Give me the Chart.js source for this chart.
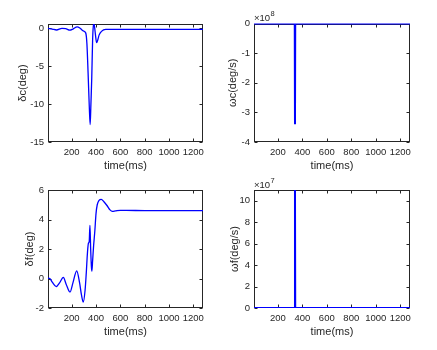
<!DOCTYPE html>
<html>
<head>
<meta charset="utf-8">
<script src="https://cdn.jsdelivr.net/npm/chart.js@4/dist/chart.umd.min.js"></script>
<style>
  body { margin: 0; background: #fff; }
  .panel { position: absolute; }
</style>
</head>
<body>
<div class="panel" style="left:0px;top:0px"><canvas id="dc" width="218" height="175"></canvas></div>
<div class="panel" style="left:218px;top:0px"><canvas id="wc" width="219" height="175"></canvas></div>
<div class="panel" style="left:0px;top:175px"><canvas id="df" width="218" height="175"></canvas></div>
<div class="panel" style="left:218px;top:175px"><canvas id="wf" width="219" height="175"></canvas></div>
<script>
// δc (deg) vs time (ms)
const timeDc = [5, 40, 75, 120, 150, 185, 210, 245, 270, 295, 315, 325, 335, 345, 352, 358, 365, 372, 378, 383, 388, 395, 405, 415, 425, 445, 480, 550, 700, 900, 1100, 1280]
const deltaC = [0, -0.1, -0.22, 0, -0.05, -0.25, -0.1, 0.2, 0, -0.35, -0.6, -2.0, -6.0, -10.5, -12.7, -10.0, -6.5, -1.5, 0.3, 0.57, 0.2, -0.8, -1.9, -1.5, -0.9, -0.4, -0.15, -0.15, -0.15, -0.15, -0.15, -0.15]

// δf (deg) vs time (ms)
const timeDf = [5, 20, 40, 73, 100, 131, 155, 186, 210, 241, 265, 280, 295, 310, 320, 330, 338, 344, 350, 356, 362, 366, 372, 380, 390, 400, 410, 425, 443, 465, 490, 515, 535, 560, 600, 650, 800, 1000, 1280]
const deltaF = [0.02, 0, -0.25, -0.55, -0.3, 0.07, -0.4, -0.92, -0.3, 0.52, -0.3, -1.1, -1.6, -0.8, 0.4, 1.8, 2.4, 2.5, 3.6, 2.0, 0.8, 0.5, 1.2, 2.2, 3.2, 4.4, 5.0, 5.3, 5.37, 5.2, 4.95, 4.65, 4.55, 4.58, 4.62, 4.62, 4.6, 4.6, 4.6]

// ωc, ωf (deg/s) vs time (ms)
const timeW = [5, 338, 340, 342, 1280]
const omegaC = [0, 0, -3.4e8, 0, 0]
const omegaF = [0, 0, 1.1e8, 0, 0]

const timeTicks = [200, 400, 600, 800, 1000, 1200]
const dcTicks = [-15, -10, -5, 0]
const wcTicks = [-4e8, -3e8, -2e8, -1e8, 0]
const dfTicks = [-2, 0, 2, 4, 6]
const wfTicks = [0, 2e7, 4e7, 6e7, 8e7, 10e7]

const axisColor = '#262626'
const fontFamily = '"Liberation Sans", Arial, Helvetica, sans-serif'

const matlabAxes = {
    id: 'matlabAxes',
    beforeDatasetsDraw(chart) {
        const { ctx, chartArea: a } = chart
        const l = Math.round(a.left) + 0.5
        const r = Math.round(a.right) - 0.5
        const t = Math.round(a.top) + 0.5
        const b = Math.round(a.bottom) - 0.5
        ctx.save()
        ctx.strokeStyle = axisColor
        ctx.lineWidth = 1
        ctx.strokeRect(l, t, r - l, b - t)
        ctx.beginPath()
        chart.scales.x.ticks.forEach(tk => {
            const px = Math.round(chart.scales.x.getPixelForValue(tk.value)) + 0.5
            ctx.moveTo(px, b); ctx.lineTo(px, b - 3)
            ctx.moveTo(px, t); ctx.lineTo(px, t + 3)
        })
        chart.scales.y.ticks.forEach(tk => {
            const py = Math.round(chart.scales.y.getPixelForValue(tk.value)) + 0.5
            ctx.moveTo(l, py); ctx.lineTo(l + 3, py)
            ctx.moveTo(r, py); ctx.lineTo(r - 3, py)
        })
        ctx.stroke()
        ctx.restore()
    },
    afterDraw(chart, args, opts) {
        if (!opts.exponent) return
        const { ctx, chartArea: a } = chart
        ctx.save()
        ctx.fillStyle = axisColor
        ctx.textBaseline = 'alphabetic'
        ctx.font = `9.5px ${fontFamily}`
        ctx.fillText('×10', a.left, a.top - 2.5)
        const w = ctx.measureText('×10').width
        ctx.font = `7.5px ${fontFamily}`
        ctx.fillText(opts.exponent, a.left + w + 0.5, a.top - 7.5)
        ctx.restore()
    }
}

const makeChart = (id, times, values, cfg) => {
    const ctx = document.getElementById(id).getContext('2d')
    return new Chart(ctx, {
        type: 'line',
        data: {
            labels: times,
            datasets: [{
                data: times.map((t, i) => ({ x: t, y: values[i] })),
                borderColor: '#0000ff',
                borderWidth: cfg.lineWidth,
                pointRadius: 0,
                cubicInterpolationMode: cfg.smooth ? 'monotone' : 'default',
                tension: 0
            }]
        },
        options: {
            responsive: false,
            animation: false,
            layout: { padding: { top: cfg.padTop, right: cfg.padRight, left: 0, bottom: 0 } },
            plugins: {
                legend: { display: false },
                tooltip: { enabled: false },
                matlabAxes: { exponent: cfg.exponent }
            },
            scales: {
                x: {
                    type: 'linear',
                    min: 5,
                    max: 1280,
                    grid: { display: false, drawTicks: false, tickLength: 0 },
                    border: { display: false },
                    afterBuildTicks: scale => { scale.ticks = timeTicks.map(v => ({ value: v })) },
                    afterFit: scale => { scale.height = cfg.xHeight },
                    ticks: {
                        color: axisColor,
                        padding: 5,
                        maxRotation: 0,
                        autoSkip: false,
                        font: { family: fontFamily, size: 9.5 },
                        callback: v => String(v)
                    },
                    title: {
                        display: true,
                        text: 'time(ms)',
                        color: axisColor,
                        font: { family: fontFamily, size: 11 },
                        padding: { top: 0, bottom: cfg.xTitlePad }
                    }
                },
                y: {
                    type: 'linear',
                    min: cfg.yMin,
                    max: cfg.yMax,
                    grid: { display: false, drawTicks: false, tickLength: 0 },
                    border: { display: false },
                    afterBuildTicks: scale => { scale.ticks = cfg.yTicks.map(v => ({ value: v })) },
                    afterFit: scale => { scale.width = cfg.yWidth },
                    ticks: {
                        color: axisColor,
                        padding: 4,
                        autoSkip: false,
                        font: { family: fontFamily, size: 9.5 },
                        callback: v => String(Math.round(v / cfg.yScale * 100) / 100)
                    },
                    title: {
                        display: true,
                        text: cfg.yLabel,
                        color: axisColor,
                        font: { family: fontFamily, size: 11 },
                        padding: { top: cfg.yTitlePad, bottom: 0 }
                    }
                }
            }
        },
        plugins: [matlabAxes]
    })
}

makeChart('dc', timeDc, deltaC, {
    smooth: true, lineWidth: 1.3, padTop: 24, padRight: 15, xHeight: 33, yWidth: 48,
    yMin: -15, yMax: 0.57, yTicks: dcTicks, yScale: 1, yLabel: 'δc(deg)',
    xTitlePad: 2.5, yTitlePad: 16.5
})
makeChart('wc', timeW, omegaC, {
    smooth: false, lineWidth: 2, padTop: 23.5, padRight: 27, xHeight: 33, yWidth: 36,
    yMin: -4e8, yMax: 0, yTicks: wcTicks, yScale: 1e8, yLabel: 'ωc(deg/s)', exponent: '8',
    xTitlePad: 2.5, yTitlePad: 8.5
})
makeChart('df', timeDf, deltaF, {
    smooth: true, lineWidth: 1.3, padTop: 15, padRight: 15, xHeight: 42, yWidth: 48,
    yMin: -2, yMax: 6, yTicks: dfTicks, yScale: 1, yLabel: 'δf(deg)',
    xTitlePad: 11.5, yTitlePad: 23.5
})
makeChart('wf', timeW, omegaF, {
    smooth: false, lineWidth: 2, padTop: 15, padRight: 27, xHeight: 42, yWidth: 36,
    yMin: 0, yMax: 1.1e8, yTicks: wfTicks, yScale: 1e7, yLabel: 'ωf(deg/s)', exponent: '7',
    xTitlePad: 11.5, yTitlePad: 10
})
</script>
</body>
</html>
